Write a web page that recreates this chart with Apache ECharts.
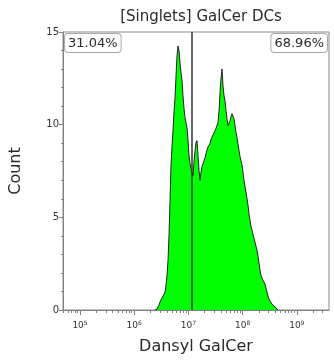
<!DOCTYPE html>
<html>
<head>
<meta charset="utf-8">
<script src="https://cdn.jsdelivr.net/npm/echarts@6/dist/echarts.min.js"></script>
<style>
html,body{margin:0;padding:0;background:#fff;}
#chart{width:334px;height:363px;}
</style>
</head>
<body>
<div id="chart"></div>
<script>
// Histogram bins: log10 of Dansyl GalCer intensity, and event counts
var logIntensity = [6.384,6.402,6.421,6.439,6.458,6.476,6.495,6.513,6.532,6.550,6.569,6.587,6.605,6.624,6.642,6.661,6.679,6.698,6.716,6.735,6.753,6.771,6.790,6.808,6.827,6.845,6.864,6.882,6.900,6.919,6.937,6.956,6.974,6.993,7.011,7.030,7.048,7.066,7.085,7.103,7.122,7.140,7.159,7.177,7.196,7.214,7.232,7.251,7.269,7.288,7.306,7.325,7.343,7.362,7.380,7.398,7.417,7.435,7.454,7.472,7.491,7.509,7.528,7.546,7.565,7.583,7.601,7.620,7.638,7.657,7.675,7.694,7.712,7.731,7.749,7.768,7.786,7.804,7.823,7.841,7.860,7.878,7.897,7.915,7.934,7.952,7.970,7.989,8.007,8.026,8.044,8.063,8.081,8.100,8.118,8.137,8.155,8.173,8.192,8.210,8.229,8.247,8.266,8.284,8.303,8.321,8.339,8.358,8.376,8.395,8.413,8.432,8.450,8.469,8.487,8.506,8.524,8.542,8.561,8.579,8.598,8.616,8.635,8.653];
var counts = [0,0.03,0.05,0.16,0.27,0.43,0.54,0.65,0.75,0.86,0.97,1.34,1.88,2.69,4.03,5.91,7.80,8.87,9.68,10.75,11.45,12.63,13.71,14.25,13.98,13.33,12.80,12.37,11.56,10.86,10.38,10.11,9.84,9.14,8.33,7.90,7.63,7.42,7.26,7.96,8.60,9.03,9.14,8.33,7.53,6.99,7.42,7.74,7.90,8.06,8.20,8.45,8.55,8.80,8.85,8.98,9.20,9.25,9.45,9.55,9.68,9.80,9.89,10.11,10.75,11.72,12.47,13.01,12.10,11.56,11.29,10.75,10.32,9.95,10.00,10.22,10.43,10.59,10.65,10.32,9.95,9.57,9.30,8.98,8.60,8.28,8.06,7.85,7.42,6.99,6.67,6.34,6.02,5.65,5.16,4.84,4.52,4.30,4.09,3.87,3.66,3.44,3.23,2.90,2.53,2.15,1.88,1.72,1.61,1.51,1.40,1.18,0.97,0.75,0.59,0.48,0.38,0.32,0.27,0.22,0.16,0.11,0.05,0];
var xDecades = [5,6,7,8,9];
var yTicks = [0,5,10,15];
var gateLog = [7.066];
var gatePercents = ['31.04%','68.96%'];
var chartTitle = '[Singlets] GalCer DCs';
var xTitle = 'Dansyl GalCer';
var yTitle = 'Count';
var xRange = [4.686, 9.594];

var data = logIntensity.map(function(v,i){return [v, counts[i]];});
var minorVals = [];
for (var n = 4; n <= 9; n++) {
  for (var k = 2; k <= 9; k++) {
    var v = n + Math.log10(k);
    if (v > xRange[0] && v < xRange[1]) minorVals.push(v);
  }
}

var chart = echarts.init(document.getElementById('chart'), null, {renderer:'canvas'});
var font = 'DejaVu Sans';
chart.setOption({
  animation:false,
  backgroundColor:'#fff',
  title:{text:chartTitle,left:196,top:5,textAlign:'center',
    textStyle:{fontFamily:font,fontSize:15,fontWeight:'normal',color:'#2a2a2a'}},
  grid:{left:63,right:5,top:32,bottom:53,show:true,borderColor:'#8a8a8a',borderWidth:1},
  xAxis:[{
    type:'value',min:xRange[0],max:xRange[1],
    name:xTitle,nameLocation:'middle',nameGap:29,
    nameTextStyle:{fontFamily:font,fontSize:16,color:'#2a2a2a'},
    axisLine:{lineStyle:{color:'#808080',width:1}},
    axisTick:{show:true,length:5,customValues:xDecades,lineStyle:{color:'#808080'}},
    axisLabel:{customValues:xDecades,margin:10,
      formatter:function(v){return '{b|10}{s|'+Math.round(v)+'}';},
      rich:{b:{fontFamily:font,fontSize:9,color:'#333'},
            s:{fontFamily:font,fontSize:6,color:'#333',verticalAlign:'top',padding:[0,0,6,0]}}},
    splitLine:{show:false}
  },{
    type:'value',min:xRange[0],max:xRange[1],position:'bottom',
    axisLine:{show:false},
    axisTick:{show:true,length:3,customValues:minorVals,lineStyle:{color:'#808080'}},
    axisLabel:{show:false},
    splitLine:{show:false}
  }],
  yAxis:{
    type:'value',min:0,max:15,interval:5,
    name:yTitle,nameLocation:'middle',nameGap:39,
    nameTextStyle:{fontFamily:font,fontSize:16,color:'#2a2a2a'},
    axisLine:{show:true,lineStyle:{color:'#808080',width:1}},
    axisTick:{show:true,length:4,lineStyle:{color:'#808080'}},
    minorTick:{show:true,splitNumber:5,length:2,lineStyle:{color:'#808080'}},
    axisLabel:{fontFamily:font,fontSize:10,color:'#333',margin:4},
    splitLine:{show:false}
  },
  series:[{
    type:'line',data:data,showSymbol:false,
    lineStyle:{color:'#222',width:1},
    areaStyle:{color:'#00ff00',opacity:1},
    markLine:{symbol:'none',silent:true,label:{show:false},
      lineStyle:{color:'#333',width:1.5,type:'solid'},
      data:[{xAxis:gateLog[0]}]}
  }],
  graphic:[
    {type:'text',left:64,top:33,z:100,style:{text:gatePercents[0],fontFamily:font,fontSize:13,fill:'#2a2a2a',
      backgroundColor:'#fff',borderColor:'#aaa',borderWidth:1,borderRadius:3,padding:[3,3,2,3]}},
    {type:'text',right:6,top:33,z:100,style:{text:gatePercents[1],fontFamily:font,fontSize:13,fill:'#2a2a2a',
      backgroundColor:'#fff',borderColor:'#aaa',borderWidth:1,borderRadius:3,padding:[3,3,2,3]}}
  ]
});
</script>
</body>
</html>
